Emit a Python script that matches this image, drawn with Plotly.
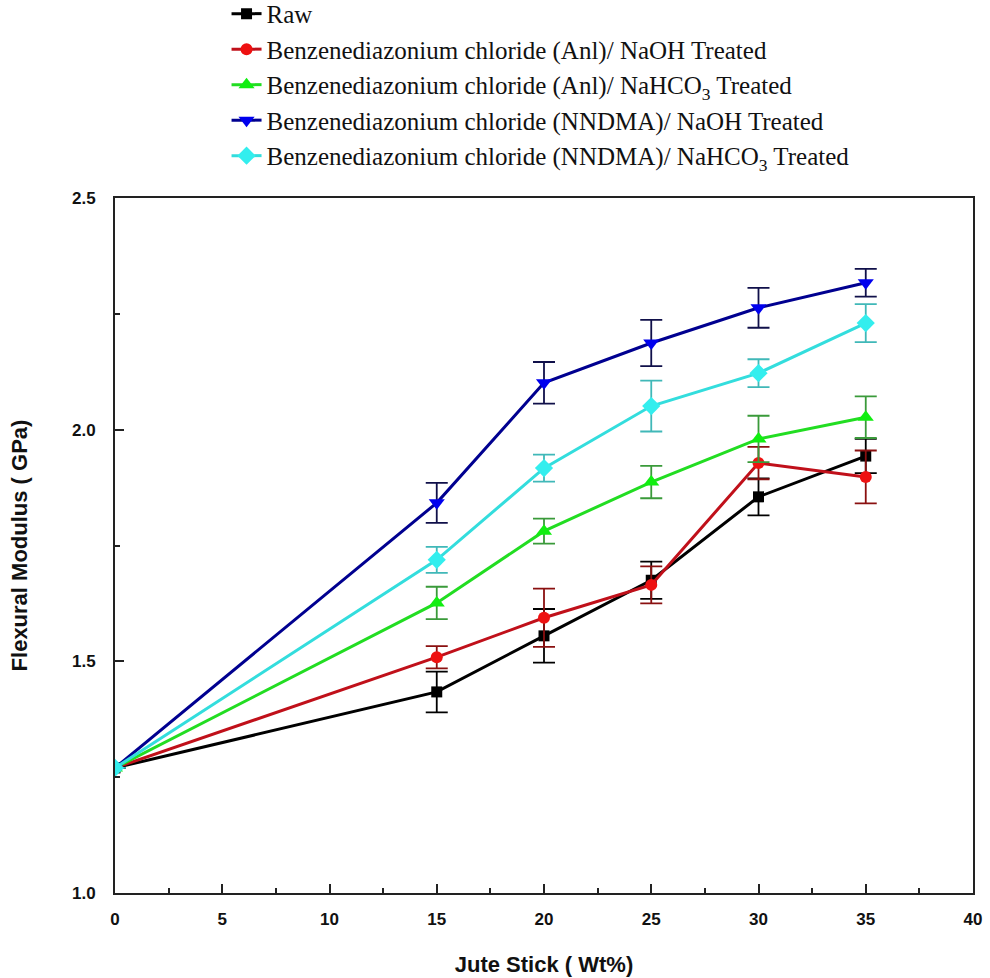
import plotly.graph_objects as go

# Jute stick loading (wt%)
jute_wt = [0, 15, 20, 25, 30, 35]

# Flexural modulus (GPa) and standard deviations for each fibre treatment
raw = [1.27, 1.434, 1.555, 1.675, 1.855, 1.943]
raw_err = [0, 0.044, 0.058, 0.040, 0.040, 0.037]

anl_naoh = [1.27, 1.509, 1.594, 1.665, 1.928, 1.898]
anl_naoh_err = [0, 0.024, 0.063, 0.040, 0.035, 0.057]

anl_nahco3 = [1.27, 1.626, 1.781, 1.887, 1.980, 2.027]
anl_nahco3_err = [0, 0.035, 0.027, 0.035, 0.050, 0.045]

nndma_naoh = [1.27, 1.842, 2.101, 2.187, 2.263, 2.317]
nndma_naoh_err = [0, 0.043, 0.045, 0.050, 0.043, 0.030]

nndma_nahco3 = [1.27, 1.719, 1.917, 2.051, 2.122, 2.230]
nndma_nahco3_err = [0, 0.028, 0.029, 0.055, 0.030, 0.041]

series_names = [
    "Raw",
    "Benzenediazonium chloride (Anl)/ NaOH Treated",
    "Benzenediazonium chloride (Anl)/ NaHCO<sub>3</sub> Treated",
    "Benzenediazonium chloride (NNDMA)/ NaOH Treated",
    "Benzenediazonium chloride (NNDMA)/ NaHCO<sub>3</sub> Treated",
]

y_tick_vals = [1.0, 1.5, 2.0, 2.5]
y_tick_text = ["1.0", "1.5", "2.0", "2.5"]
x_tick_vals = [0, 5, 10, 15, 20, 25, 30, 35, 40]

styles = [
    # line colour, marker colour, marker symbol, marker size, error-bar colour
    ("#000000", "#000000", "square", 11, "#000000"),
    ("#c0101a", "#ee1111", "circle", 12, "#8a1010"),
    ("#22dd22", "#11ee11", "triangle-up", 14, "#3a9a3a"),
    ("#000090", "#0000ee", "triangle-down", 14, "#10104a"),
    ("#33dddd", "#33eeee", "diamond", 14, "#40b8b8"),
]

data = [
    (raw, raw_err),
    (anl_naoh, anl_naoh_err),
    (anl_nahco3, anl_nahco3_err),
    (nndma_naoh, nndma_naoh_err),
    (nndma_nahco3, nndma_nahco3_err),
]

fig = go.Figure()
for i, ((vals, errs), name, sty) in enumerate(zip(data, series_names, styles)):
    line_c, mark_c, sym, msize, err_c = sty
    fig.add_trace(go.Scatter(
        x=jute_wt, y=vals, name=name, mode="lines+markers",
        legendgroup=f"g{i}",
        line=dict(color=line_c, width=3),
        marker=dict(color=mark_c, symbol=sym, size=msize),
        error_y=dict(type="data", array=errs, visible=True,
                     color=err_c, thickness=1.8, width=11),
    ))

axis_font = dict(family="Liberation Sans, Arial", size=17, color="#111111", weight="bold")
title_font = dict(family="Liberation Sans, Arial", size=22, color="#111111")

fig.update_layout(
    width=990, height=978,
    margin=dict(l=115, r=17, t=198, b=85, autoexpand=False),
    paper_bgcolor="white", plot_bgcolor="white",
    showlegend=True,
    legend=dict(
        x=0.13, y=1.298, xanchor="left", yanchor="top",
        font=dict(family="Liberation Serif, Times New Roman", size=25, color="#111111"),
        bgcolor="rgba(0,0,0,0)", tracegroupgap=0, itemwidth=30,
    ),
    xaxis=dict(
        range=[0, 40], tickvals=x_tick_vals,
        showline=True, linecolor="#222222", linewidth=2, mirror=True,
        ticks="inside", ticklen=9, tickwidth=2, tickcolor="#222222",
        minor=dict(dtick=2.5, ticks="inside", ticklen=5, tickwidth=2, tickcolor="#222222"),
        showgrid=False, zeroline=False,
        tickfont=axis_font, ticklabelstandoff=10,
        title=dict(text="<b>Jute Stick ( Wt%)</b>", font=title_font, standoff=28),
    ),
    yaxis=dict(
        range=[1.0, 2.5], tickvals=y_tick_vals, ticktext=y_tick_text,
        showline=True, linecolor="#222222", linewidth=2, mirror=True,
        ticks="inside", ticklen=9, tickwidth=2, tickcolor="#222222",
        minor=dict(dtick=0.25, ticks="inside", ticklen=5, tickwidth=2, tickcolor="#222222"),
        showgrid=False, zeroline=False,
        tickfont=axis_font, ticklabelstandoff=14,
        title=dict(text="<b>Flexural Modulus ( GPa)</b>", font=title_font, standoff=38),
    ),
)

fig.write_html("out.html")
